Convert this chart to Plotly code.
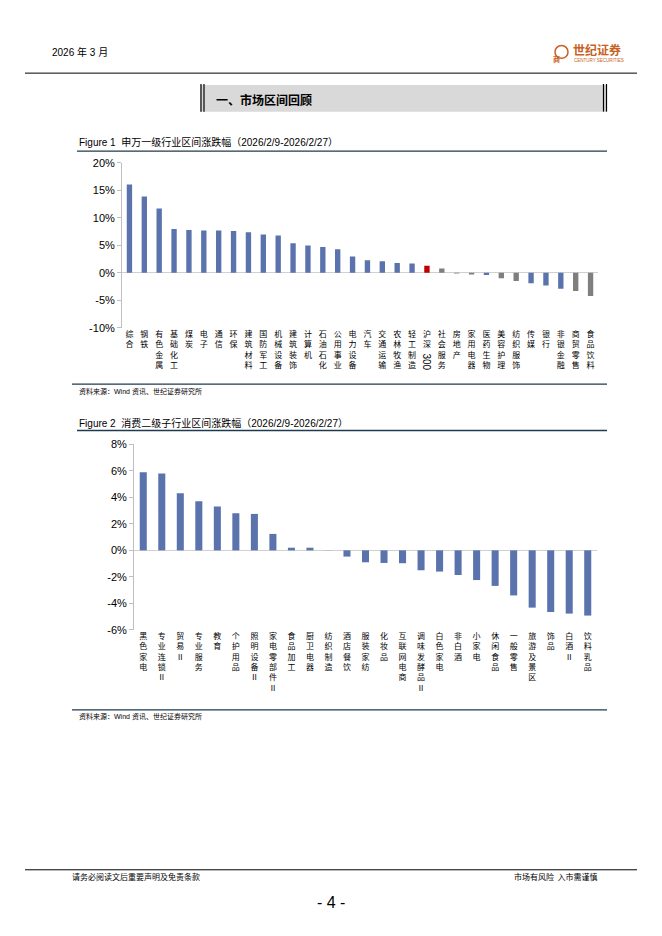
import plotly.graph_objects as go

# ---------------- data ----------------
fig1_categories = ["综合", "钢铁", "有色金属", "基础化工", "煤炭", "电子", "通信", "环保", "建筑材料",
                   "国防军工", "机械设备", "建筑装饰", "计算机", "石油石化", "公用事业", "电力设备", "汽车",
                   "交通运输", "农林牧渔", "轻工制造", "沪深300", "社会服务", "房地产", "家用电器", "医药生物",
                   "美容护理", "纺织服饰", "传媒", "银行", "非银金融", "商贸零售", "食品饮料"]
fig1_values = [16.1, 13.9, 11.7, 8.0, 7.8, 7.7, 7.7, 7.6, 7.4,
               7.0, 6.8, 5.4, 5.0, 4.7, 4.3, 3.0, 2.3,
               2.1, 1.8, 1.7, 1.3, 0.8, -0.1, -0.3, -0.4,
               -1.0, -1.5, -1.9, -2.3, -2.9, -3.3, -4.2]
fig1_groups = ["a", "a", "a", "a", "a", "a", "a", "a", "a",
               "a", "a", "a", "a", "a", "a", "a", "a",
               "a", "a", "a", "idx", "c", "c", "c", "a",
               "c", "c", "a", "a", "a", "c", "c"]

fig2_categories = ["黑色家电", "专业连锁Ⅱ", "贸易Ⅱ", "专业服务", "教育", "个护用品", "照明设备Ⅱ", "家电零部件Ⅱ",
                   "食品加工", "厨卫电器", "纺织制造", "酒店餐饮", "服装家纺", "化妆品", "互联网电商",
                   "调味发酵品Ⅱ", "白色家电", "非白酒", "小家电", "休闲食品", "一般零售", "旅游及景区",
                   "饰品", "白酒Ⅱ", "饮料乳品"]
fig2_values = [5.9, 5.8, 4.3, 3.7, 3.3, 2.8, 2.75, 1.24,
               0.2, 0.2, 0.01, -0.47, -0.9, -0.95, -0.97,
               -1.5, -1.6, -1.86, -2.24, -2.68, -3.4, -4.32,
               -4.65, -4.77, -4.92]

fig1_yticks = [-10, -5, 0, 5, 10, 15, 20]
fig2_yticks = [-6, -4, -2, 0, 2, 4, 6, 8]

# ---------------- styling ----------------
W, H = 662, 936
BLUE = "#5A73AD"
GRAY = "#7F7F7F"
RED = "#C00000"
CJK = "Noto Sans CJK SC"
LAT = "Liberation Sans, Arial"
MIX = "Liberation Sans, Noto Sans CJK SC"
color_map = {"a": BLUE, "c": GRAY, "idx": RED}


def px(x):
    return x / W


def py(y):
    return 1 - y / H


def vert(s):
    if s == "沪深300":
        return "沪<br>深<br> <br> "
    return "<br>".join(list(s))


fig = go.Figure()

fig.add_trace(go.Bar(
    x=fig1_categories, y=fig1_values,
    marker=dict(color=[color_map[g] for g in fig1_groups], line=dict(width=0)),
    width=0.36, xaxis="x", yaxis="y", showlegend=False, hoverinfo="x+y",
))
fig.add_trace(go.Bar(
    x=fig2_categories, y=fig2_values,
    marker=dict(color=BLUE, line=dict(width=0)),
    width=0.38, xaxis="x2", yaxis="y2", showlegend=False, hoverinfo="x+y",
))

axis_common_y = dict(
    showgrid=False, showline=True, linecolor="#BFBFBF", linewidth=1,
    ticks="outside", ticklen=4, tickcolor="#BFBFBF",
    zeroline=True, zerolinecolor="#D0D0D0", zerolinewidth=1,
    tickfont=dict(family=LAT, size=11, color="#000000"),
    tickmode="array", fixedrange=True,
)
axis_common_x = dict(
    type="category", showgrid=False, showline=False, ticks="",
    tickangle=0, tickfont=dict(family=CJK, size=8, color="#000000"),
    fixedrange=True,
)

fig.update_layout(
    width=W, height=H,
    margin=dict(l=0, r=0, t=0, b=0),
    paper_bgcolor="white", plot_bgcolor="white",
    bargap=0.6,
    xaxis=dict(axis_common_x, domain=[px(122), px(598)], anchor="y",
               tickmode="array", tickvals=fig1_categories,
               ticktext=[vert(c) for c in fig1_categories],
               range=[-0.5, len(fig1_categories) - 0.5]),
    yaxis=dict(axis_common_y, domain=[py(326), py(159)], anchor="x",
               range=[-10, 20], tickvals=fig1_yticks,
               ticktext=[f"{v}%" for v in fig1_yticks]),
    xaxis2=dict(axis_common_x, domain=[px(134), px(597)], anchor="y2",
                tickmode="array", tickvals=fig2_categories,
                ticktext=[vert(c) for c in fig2_categories],
                range=[-0.5, len(fig2_categories) - 0.5]),
    yaxis2=dict(axis_common_y, domain=[py(632), py(444)], anchor="x2",
                range=[-6, 8], tickvals=fig2_yticks,
                ticktext=[f"{v}%" for v in fig2_yticks]),
)

shapes = []
ann = []

# header
ann.append(dict(text="2026 年 3 月", x=px(50), y=py(47), xref="paper", yref="paper",
                xanchor="left", yanchor="middle", showarrow=False,
                font=dict(family=MIX, size=10, color="#000000")))
shapes.append(dict(type="line", xref="paper", yref="paper", x0=px(25), x1=px(637),
                   y0=py(68), y1=py(68), line=dict(color="#000000", width=1)))
# logo
shapes.append(dict(type="circle", xref="paper", yref="paper", x0=px(555), x1=px(568),
                   y0=py(53), y1=py(40), line=dict(color="#C8601E", width=1.5)))
ann.append(dict(text="<b>商</b>", x=px(561.5), y=py(46.5), xref="paper", yref="paper",
                showarrow=False, font=dict(family=CJK, size=7, color="#C8601E")))
ann.append(dict(text="<b>世纪证券</b>", x=px(571), y=py(44), xref="paper", yref="paper",
                xanchor="left", yanchor="middle", showarrow=False,
                font=dict(family=CJK, size=12, color="#C8601E")))
ann.append(dict(text="CENTURY SECURITIES", x=px(572), y=py(55), xref="paper", yref="paper",
                xanchor="left", yanchor="middle", showarrow=False,
                font=dict(family=LAT, size=4.5, color="#C8601E")))

# section heading
shapes.append(dict(type="rect", xref="paper", yref="paper", x0=px(200), x1=px(607),
                   y0=py(107), y1=py(80), fillcolor="#D9D9D9", line=dict(width=0), layer="below"))
for xx in (201, 204, 603.5, 606.5):
    shapes.append(dict(type="line", xref="paper", yref="paper", x0=px(xx), x1=px(xx),
                       y0=py(107), y1=py(79), line=dict(color="#000000", width=1.2)))
ann.append(dict(text="<b>一、市场区间回顾</b>", x=px(214), y=py(95), xref="paper", yref="paper",
                xanchor="left", yanchor="middle", showarrow=False,
                font=dict(family=CJK, size=12, color="#000000")))

# figure titles and source lines
for title, ty, uy, sy, src_y in [
    ("Figure 1  申万一级行业区间涨跌幅（2026/2/9-2026/2/27）", 138, 147, 383, 390),
    ("Figure 2  消费二级子行业区间涨跌幅（2026/2/9-2026/2/27）", 422, 430, 713, 720),
]:
    ann.append(dict(text=title, x=px(77), y=py(ty), xref="paper", yref="paper",
                    xanchor="left", yanchor="middle", showarrow=False,
                    font=dict(family=MIX, size=10, color="#000000")))
    shapes.append(dict(type="line", xref="paper", yref="paper", x0=px(77), x1=px(607),
                       y0=py(uy), y1=py(uy), line=dict(color="#1F3A4F", width=1.3)))
    shapes.append(dict(type="line", xref="paper", yref="paper", x0=px(72), x1=px(607),
                       y0=py(sy), y1=py(sy), line=dict(color="#1F3A4F", width=1.3)))
    ann.append(dict(text="资料来源：Wind 资讯、世纪证券研究所", x=px(77), y=py(src_y), xref="paper",
                    yref="paper", xanchor="left", yanchor="middle", showarrow=False,
                    font=dict(family=MIX, size=7, color="#000000")))

# rotated "300" of 沪深300 label
ann.append(dict(text="300", x="沪深300", y=py(361), xref="x", yref="paper",
                xanchor="center", yanchor="middle", showarrow=False, textangle=90,
                font=dict(family=LAT, size=10, color="#000000")))

# footer
shapes.append(dict(type="line", xref="paper", yref="paper", x0=px(25), x1=px(637),
                   y0=py(875), y1=py(875), line=dict(color="#000000", width=1)))
ann.append(dict(text="请务必阅读文后重要声明及免责条款", x=px(70), y=py(882), xref="paper", yref="paper",
                xanchor="left", yanchor="middle", showarrow=False,
                font=dict(family=CJK, size=8, color="#000000")))
ann.append(dict(text="市场有风险  入市需谨慎", x=px(600), y=py(882), xref="paper", yref="paper",
                xanchor="right", yanchor="middle", showarrow=False,
                font=dict(family=CJK, size=8, color="#000000")))
ann.append(dict(text="- 4 -", x=px(331), y=py(908), xref="paper", yref="paper",
                xanchor="center", yanchor="middle", showarrow=False,
                font=dict(family=MIX, size=16, color="#000000")))

fig.update_layout(shapes=shapes, annotations=ann)
fig.write_html("out.html",
               config={"displayModeBar": False, "staticPlot": True},
               post_script="document.body.style.margin='0';document.body.style.padding='0';"
                           "document.documentElement.style.overflow='hidden';")
